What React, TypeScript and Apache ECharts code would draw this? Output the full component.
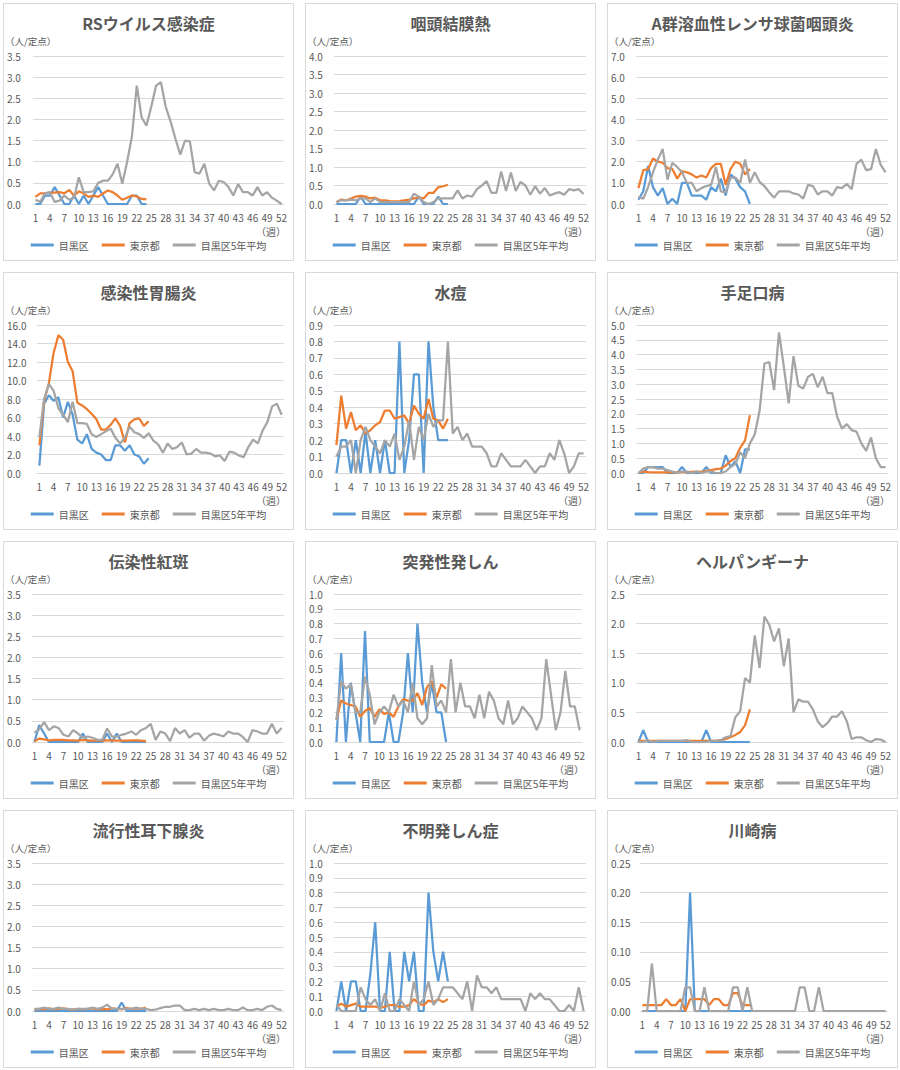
import React, { useEffect, useRef } from "react";
import * as echarts from "echarts";

const FONT = '"Noto Sans CJK JP", "Noto Sans", sans-serif';
const TXT = "#595959";
const GRID = "#d9d9d9";
const C_BLUE = "#5b9bd5";
const C_ORANGE = "#ed7d31";
const C_GRAY = "#a5a5a5";

const weeks = ["1","2","3","4","5","6","7","8","9","10","11","12","13","14","15","16","17","18","19","20","21","22","23","24","25","26","27","28","29","30","31","32","33","34","35","36","37","38","39","40","41","42","43","44","45","46","47","48","49","50","51","52"];
const seriesNames = ["目黒区", "東京都", "目黒区5年平均"];

// RSウイルス感染症
const rsMeguro = [0,0,0.2,0.2,0.4,0.2,0,0,0.2,0,0.2,0,0.2,0.4,0.2,0,0,0,0,0,0.2,0.2,0,0];
const rsTokyo = [0.17,0.25,0.25,0.27,0.27,0.28,0.25,0.33,0.2,0.3,0.25,0.17,0.2,0.17,0.25,0.32,0.28,0.2,0.1,0.15,0.2,0.18,0.12,0.11];
const rsAvg = [0.1,0.05,0.25,0.28,0.05,0.08,0.2,0.1,0.15,0.63,0.28,0.28,0.3,0.5,0.55,0.55,0.7,0.95,0.48,1.0,1.6,2.8,2.05,1.85,2.3,2.8,2.88,2.3,1.95,1.55,1.17,1.5,1.48,0.75,0.72,0.95,0.48,0.32,0.55,0.52,0.4,0.2,0.47,0.28,0.28,0.2,0.4,0.2,0.28,0.15,0.08,0.0];

// 咽頭結膜熱
const pcfMeguro = [0,0,0,0,0,0.2,0,0,0,0,0,0,0,0,0,0,0,0.2,0,0,0,0.2,0,0];
const pcfTokyo = [0.05,0.12,0.1,0.15,0.2,0.22,0.2,0.15,0.17,0.1,0.1,0.08,0.07,0.08,0.1,0.12,0.15,0.18,0.15,0.3,0.3,0.45,0.48,0.52];
const pcfAvg = [0.05,0.1,0.1,0.12,0.1,0.15,0.15,0.05,0.15,0.05,0.05,0.05,0.05,0.05,0.05,0.05,0.28,0.2,0.05,0.0,0.05,0.15,0.15,0.15,0.15,0.37,0.15,0.23,0.2,0.4,0.5,0.62,0.3,0.3,0.88,0.35,0.85,0.35,0.6,0.5,0.25,0.48,0.28,0.43,0.23,0.28,0.32,0.25,0.4,0.37,0.4,0.27];

// A群溶血性レンサ球菌咽頭炎
const gasMeguro = [0.2,0.6,1.8,0.8,0.4,0.75,0,0.25,0,1.0,1.0,0.4,0.4,0.4,0.2,0.8,0.6,1.2,0.4,1.4,1.2,0.8,0.6,0];
const gasTokyo = [0.75,1.6,1.65,2.15,2.0,1.95,1.7,1.65,1.2,1.55,1.5,1.4,1.25,1.35,1.25,1.7,1.9,1.9,0.9,1.65,2.0,1.9,1.4,1.65];
const gasAvg = [0.35,0.25,0.8,1.5,2.1,2.6,1.15,1.95,1.75,1.5,1.0,1.0,0.6,0.75,0.85,0.9,1.75,0.6,0.55,1.25,1.25,1.0,2.1,1.0,1.5,1.05,0.85,0.55,0.3,0.6,0.6,0.6,0.5,0.45,0.25,0.9,0.85,0.45,0.6,0.6,0.4,0.8,0.75,0.95,0.7,1.9,2.1,1.6,1.65,2.6,1.85,1.5];

// 感染性胃腸炎
const geMeguro = [0.8,7.5,8.4,7.8,8.2,6.0,7.7,6.3,3.6,3.2,4.2,2.6,2.2,2.0,1.4,1.4,3.0,3.0,2.4,3.0,2.0,1.8,1.0,1.6];
const geTokyo = [3.0,7.8,9.7,13.0,14.9,14.4,12.0,11.0,7.6,7.3,6.9,6.4,5.8,4.7,4.7,5.2,5.9,5.1,3.3,5.4,5.8,5.9,5.1,5.6];
const geAvg = [3.9,8.0,9.6,8.9,7.0,6.3,5.5,7.7,5.4,5.4,5.3,4.2,3.9,4.2,4.5,4.8,3.8,3.2,3.8,5.0,4.4,4.2,3.8,4.3,3.5,3.1,2.2,3.2,2.6,2.8,3.3,2.0,2.1,2.6,2.2,2.2,2.1,1.8,1.9,1.3,2.3,2.2,1.9,1.7,2.8,3.6,3.2,4.6,5.5,7.2,7.5,6.3];

// 水痘
const vzMeguro = [0,0.2,0.2,0,0.2,0,0.25,0,0.2,0,0.2,0,0,0.8,0,0.2,0.6,0.6,0,0.8,0.4,0.2,0.2,0.2];
const vzTokyo = [0.17,0.47,0.27,0.37,0.26,0.29,0.24,0.26,0.29,0.31,0.38,0.38,0.33,0.34,0.35,0.3,0.41,0.36,0.33,0.45,0.33,0.32,0.27,0.33];
const vzAvg = [0.1,0.16,0.16,0.2,0.0,0.2,0.28,0.2,0.16,0.12,0.2,0.16,0.24,0.08,0.16,0.32,0.08,0.28,0.2,0.36,0.28,0.32,0.32,0.8,0.24,0.28,0.2,0.24,0.16,0.16,0.16,0.12,0.04,0.04,0.12,0.08,0.04,0.04,0.04,0.08,0.04,0.0,0.04,0.04,0.12,0.08,0.2,0.12,0.0,0.04,0.12,0.12];

// 手足口病
const hfmMeguro = [0,0,0.2,0.2,0.2,0.2,0,0,0,0.2,0,0,0,0,0.2,0,0,0,0.6,0.2,0.4,0,0.8,0.8];
const hfmTokyo = [0.0,0.05,0.03,0.02,0.02,0.02,0.02,0.02,0.02,0.03,0.03,0.04,0.05,0.04,0.07,0.1,0.13,0.15,0.25,0.4,0.5,0.85,1.1,1.95];
const hfmAvg = [0.0,0.15,0.2,0.2,0.15,0.15,0.1,0.05,0.0,0.05,0.05,0.0,0.05,0.0,0.05,0.05,0.0,0.0,0.05,0.2,0.3,0.7,0.5,1.0,1.3,2.1,3.7,3.75,2.8,4.75,3.6,2.35,3.95,2.95,2.85,3.25,3.35,2.9,3.25,2.7,2.7,1.9,1.5,1.65,1.45,1.4,1.0,0.75,1.2,0.5,0.2,0.2];

// 伝染性紅斑
const eiMeguro = [0,0.4,0.2,0,0,0,0,0,0,0,0.2,0,0,0,0,0.2,0,0.2,0,0,0,0,0,0];
const eiTokyo = [0.02,0.08,0.06,0.04,0.05,0.05,0.05,0.04,0.04,0.03,0.05,0.04,0.03,0.03,0.03,0.04,0.04,0.03,0.03,0.03,0.04,0.04,0.03,0.02];
const eiAvg = [0.22,0.3,0.47,0.28,0.37,0.33,0.17,0.13,0.28,0.2,0.1,0.13,0.1,0.05,0.05,0.32,0.13,0.13,0.17,0.2,0.25,0.17,0.28,0.33,0.43,0.05,0.25,0.2,0.02,0.33,0.2,0.28,0.1,0.2,0.2,0.03,0.15,0.2,0.17,0.13,0.25,0.2,0.2,0.12,0.0,0.28,0.25,0.2,0.2,0.43,0.2,0.33];

// 突発性発しん
const esMeguro = [0,0.6,0,0.4,0.2,0,0.75,0,0,0,0,0.2,0,0,0.2,0.6,0.2,0.8,0.4,0.2,0.4,0.2,0.2,0];
const esTokyo = [0.15,0.28,0.26,0.25,0.24,0.17,0.21,0.23,0.17,0.22,0.19,0.2,0.17,0.24,0.29,0.28,0.28,0.33,0.25,0.37,0.41,0.3,0.39,0.36];
const esAvg = [0.15,0.41,0.36,0.39,0.2,0.2,0.44,0.32,0.12,0.2,0.24,0.2,0.32,0.24,0.28,0.2,0.4,0.16,0.12,0.16,0.52,0.24,0.28,0.2,0.56,0.2,0.4,0.24,0.24,0.16,0.32,0.16,0.34,0.28,0.16,0.12,0.28,0.12,0.16,0.24,0.2,0.16,0.08,0.16,0.56,0.32,0.08,0.2,0.48,0.24,0.24,0.08];

// ヘルパンギーナ
const hpMeguro = [0,0.2,0,0,0,0,0,0,0,0,0,0,0,0,0.2,0,0,0,0,0,0,0,0,0];
const hpTokyo = [0.02,0.02,0.02,0.02,0.02,0.02,0.02,0.02,0.02,0.02,0.02,0.02,0.02,0.02,0.02,0.02,0.02,0.03,0.05,0.08,0.12,0.17,0.28,0.55];
const hpAvg = [0.0,0.0,0.03,0.0,0.02,0.02,0.02,0.02,0.02,0.02,0.03,0.0,0.0,0.0,0.0,0.02,0.02,0.03,0.08,0.1,0.42,0.52,1.08,1.0,1.8,1.25,2.12,1.98,1.7,1.92,1.28,1.75,0.5,0.72,0.68,0.68,0.55,0.35,0.25,0.32,0.43,0.43,0.52,0.35,0.05,0.08,0.08,0.03,0.0,0.05,0.04,0.0];

// 流行性耳下腺炎
const mpMeguro = [0,0,0,0,0,0,0,0,0,0,0,0,0,0,0,0,0,0,0.2,0,0,0,0,0];
const mpTokyo = [0.03,0.05,0.04,0.06,0.04,0.05,0.06,0.04,0.03,0.05,0.04,0.05,0.06,0.04,0.05,0.04,0.06,0.05,0.04,0.07,0.05,0.06,0.05,0.08];
const mpAvg = [0.05,0.05,0.08,0.05,0.05,0.08,0.05,0.05,0.03,0.05,0.05,0.05,0.08,0.05,0.08,0.15,0.05,0.05,0.05,0.05,0.05,0.08,0.05,0.05,0.02,0.03,0.07,0.1,0.1,0.13,0.13,0.02,0.02,0.05,0.02,0.05,0.02,0.05,0.02,0.02,0.05,0.02,0.02,0.08,0.02,0.02,0.05,0.02,0.1,0.13,0.05,0.02];

// 不明発しん症
const ueMeguro = [0,0.2,0,0.2,0.2,0,0,0.25,0.6,0,0,0.4,0,0,0.4,0.2,0.4,0,0,0.8,0.4,0.2,0.4,0.2];
const ueTokyo = [0.03,0.05,0.03,0.04,0.05,0.03,0.03,0.03,0.03,0.02,0.03,0.04,0.04,0.03,0.03,0.04,0.08,0.05,0.04,0.07,0.06,0.08,0.06,0.08];
const ueAvg = [0.04,0.0,0.0,0.0,0.0,0.16,0.08,0.04,0.08,0.0,0.12,0.0,0.0,0.08,0.04,0.0,0.2,0.04,0.08,0.2,0.04,0.08,0.16,0.16,0.16,0.12,0.08,0.2,0.0,0.24,0.16,0.16,0.12,0.16,0.08,0.08,0.08,0.08,0.08,0.0,0.12,0.08,0.12,0.08,0.08,0.04,0.0,0.0,0.04,0.0,0.16,0.0];

// 川崎病
const kdMeguro = [0,0,0,0,0,0,0,0,0,0,0.2,0,0,0,0,0,0,0,0,0,0,0,0,0];
const kdTokyo = [0.01,0.01,0.01,0.01,0.01,0.02,0.01,0.01,0.02,0.0,0.02,0.02,0.02,0.02,0.01,0.02,0.02,0.01,0.01,0.03,0.03,0.01,0.01,0.01];
const kdAvg = [0,0,0.08,0,0,0,0,0,0,0.04,0.04,0,0,0.04,0,0,0,0,0,0.04,0.04,0,0.04,0,0,0,0,0,0,0,0,0,0,0.04,0.04,0,0,0.04,0,0,0,0,0,0,0,0,0,0,0,0,0,0];

type PanelCfg = {
  title: string;
  max: number;
  interval: number;
  decimals: number;
  left: number;
  right?: number;
  data: number[][];
};

const panels: PanelCfg[] = [
  { title: "RSウイルス感染症", max: 3.5, interval: 0.5, decimals: 1, left: 27, data: [rsMeguro, rsTokyo, rsAvg] },
  { title: "咽頭結膜熱", max: 4.0, interval: 0.5, decimals: 1, left: 26, data: [pcfMeguro, pcfTokyo, pcfAvg] },
  { title: "A群溶血性レンサ球菌咽頭炎", max: 7.0, interval: 1.0, decimals: 1, left: 26, data: [gasMeguro, gasTokyo, gasAvg] },
  { title: "感染性胃腸炎", max: 16.0, interval: 2.0, decimals: 1, left: 31, data: [geMeguro, geTokyo, geAvg] },
  { title: "水痘", max: 0.9, interval: 0.1, decimals: 1, left: 26, data: [vzMeguro, vzTokyo, vzAvg] },
  { title: "手足口病", max: 5.0, interval: 0.5, decimals: 1, left: 26, data: [hfmMeguro, hfmTokyo, hfmAvg] },
  { title: "伝染性紅斑", max: 3.5, interval: 0.5, decimals: 1, left: 26, data: [eiMeguro, eiTokyo, eiAvg] },
  { title: "突発性発しん", max: 1.0, interval: 0.1, decimals: 1, left: 26, right: 13, data: [esMeguro, esTokyo, esAvg] },
  { title: "ヘルパンギーナ", max: 2.5, interval: 0.5, decimals: 1, left: 26, data: [hpMeguro, hpTokyo, hpAvg] },
  { title: "流行性耳下腺炎", max: 3.5, interval: 0.5, decimals: 1, left: 26, data: [mpMeguro, mpTokyo, mpAvg] },
  { title: "不明発しん症", max: 1.0, interval: 0.1, decimals: 1, left: 26, data: [ueMeguro, ueTokyo, ueAvg] },
  { title: "川崎病", max: 0.25, interval: 0.05, decimals: 2, left: 30, data: [kdMeguro, kdTokyo, kdAvg] },
];

const PANEL_X = [3, 305, 607];
const PANEL_Y = [3, 272, 541, 810];
const PW = 291;
const PH = 258;
const IW = PW - 2;
const IH = PH - 2;

function Panel({ cfg, x, y }: { cfg: PanelCfg; x: number; y: number }) {
  const ref = useRef<HTMLDivElement>(null);
  useEffect(() => {
    if (!ref.current) return;
    const chart = echarts.init(ref.current, null, { renderer: "svg" });
    const colors = [C_BLUE, C_ORANGE, C_GRAY];
    const right = cfg.right ?? 9;
    chart.setOption({
      animation: false,
      title: {
        text: cfg.title,
        left: "center",
        top: 11,
        padding: 0,
        textStyle: { fontFamily: FONT, fontSize: 16, fontWeight: "bold", color: TXT },
      },
      grid: { left: cfg.left, right, top: 52, bottom: 56 },
      legend: {
        data: seriesNames,
        top: 231,
        left: "center",
        icon: "rect",
        itemWidth: 23,
        itemHeight: 3,
        itemGap: 13,
        textStyle: { fontFamily: FONT, fontSize: 10, color: TXT },
      },
      xAxis: {
        type: "category",
        data: weeks,
        boundaryGap: true,
        axisTick: { show: false },
        axisLine: { show: true, lineStyle: { color: GRID, width: 1 } },
        axisLabel: { interval: 2, margin: 8, fontFamily: FONT, fontSize: 10, color: TXT },
      },
      yAxis: {
        type: "value",
        min: 0,
        max: cfg.max,
        interval: cfg.interval,
        axisLine: { show: false },
        axisTick: { show: false },
        splitLine: { lineStyle: { color: GRID, width: 1 } },
        axisLabel: {
          align: "left",
          margin: cfg.left - 1,
          fontFamily: FONT,
          fontSize: 10,
          color: TXT,
          formatter: (v: number) => v.toFixed(cfg.decimals),
        },
      },
      graphic: [
        {
          type: "text",
          left: 1,
          top: 32,
          style: { text: "（人/定点）", font: `9.5px ${FONT}`, fill: TXT },
        },
        {
          type: "text",
          right: right - 2,
          top: 222,
          style: { text: "（週）", font: `10px ${FONT}`, fill: TXT },
        },
      ],
      series: cfg.data.map((d, i) => ({
        name: seriesNames[i],
        type: "line",
        data: d,
        symbol: "none",
        z: 2 + i,
        lineStyle: { color: colors[i], width: 2.25 },
        itemStyle: { color: colors[i] },
      })),
    });
    return () => chart.dispose();
  }, [cfg]);
  return (
    <div
      style={{
        position: "absolute",
        left: x,
        top: y,
        width: PW,
        height: PH,
        boxSizing: "border-box",
        border: `1px solid ${GRID}`,
        background: "#fff",
      }}
    >
      <div ref={ref} style={{ width: IW, height: IH }} />
    </div>
  );
}

export default function App() {
  return (
    <div style={{ position: "absolute", left: 0, top: 0, width: 900, height: 1070, background: "#fff" }}>
      {panels.map((p, i) => (
        <Panel key={i} cfg={p} x={PANEL_X[i % 3]} y={PANEL_Y[Math.floor(i / 3)]} />
      ))}
    </div>
  );
}
